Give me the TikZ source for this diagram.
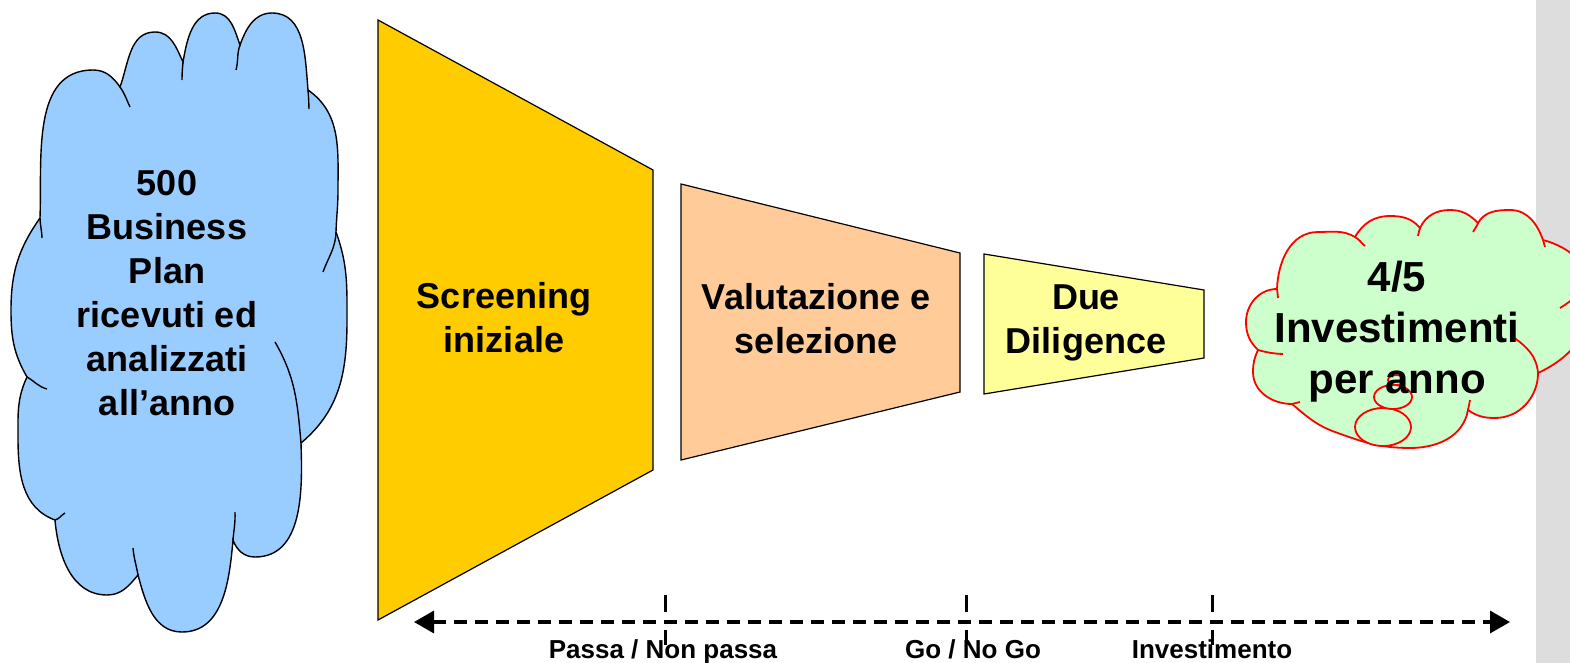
\documentclass[tikz,border=0pt]{standalone}
\usepackage{fontspec}
\setmainfont{Liberation Sans}
\usetikzlibrary{arrows.meta}
\definecolor{cloudblue}{HTML}{99CCFF}
\definecolor{cloudgreen}{HTML}{CCFFCC}
\definecolor{scrcol}{HTML}{FFCC00}
\definecolor{valcol}{HTML}{FFCC99}
\definecolor{duecol}{HTML}{FFFF99}
\definecolor{barcol}{HTML}{DDDDDD}
\begin{document}
\begin{tikzpicture}[x=1pt,y=1pt,
  shapeline/.style={draw=black,line width=1.2pt,line join=miter},
  lcloud/.style={fill=cloudblue,draw=black,line width=1.4pt},
  lhint/.style={draw=black,line width=1.4pt},
  rcloud/.style={fill=cloudgreen,draw=red,line width=1.8pt},
  rhint/.style={draw=red,line width=1.8pt},
  midtext/.style={font=\fontsize{36}{44}\selectfont\bfseries,align=center,inner sep=0pt},
  bigtext/.style={font=\fontsize{42}{51}\selectfont\bfseries,align=center,inner sep=0pt},
  labeltext/.style={font=\fontsize{26}{30}\selectfont\bfseries,inner sep=0pt,anchor=base},
  timeline/.style={line width=3.5pt,dash pattern=on 13pt off 8pt,{Triangle[length=20pt,width=22pt]}-{Triangle[length=20pt,width=22pt]}},
  tick/.style={line width=3pt}
]
\path[use as bounding box] (0,0) rectangle (1570,-663);
% grey band
\fill[barcol] (1536,0) rectangle (1570,-663);
% funnel stages
\path[shapeline,fill=scrcol] (378,-20) -- (653,-170) -- (653,-470) -- (378,-620) -- cycle;
\path[shapeline,fill=valcol] (681,-184) -- (960,-253) -- (960,-392) -- (681,-460) -- cycle;
\path[shapeline,fill=duecol] (984,-254) -- (1204,-290) -- (1204,-358) -- (984,-394) -- cycle;
% left cloud
\path[lcloud] (40,-218)
  to[out=88,in=180] (93,-70) to[out=0,in=125] (120,-87)
  to[out=70,in=180] (155,-32) to[out=0,in=115] (183,-62)
  to[out=80,in=180] (215,-13) to[out=0,in=110] (240,-45)
  to[out=70,in=180] (272,-13) to[out=0,in=95] (308,-90)
  to[out=-35,in=90] (338,-190) to[out=-90,in=88] (336,-232)
  to[out=-70,in=90] (347,-320) to[out=-90,in=40] (301,-443)
  to[out=-88,in=0] (255,-557) to[out=180,in=-70] (233,-540)
  to[out=-95,in=0] (182,-632) to[out=180,in=-75] (138,-575)
  to[out=-130,in=0] (107,-595) to[out=180,in=-85] (55,-520)
  to[out=160,in=-90] (18,-437) to[out=90,in=-115] (27,-377)
  to[out=120,in=-90] (11,-310) to[out=90,in=-125] (40,-218) -- cycle;
\draw[lhint] (40,-218) to[out=-88,in=92] (42,-238);
\draw[lhint] (120,-87) to[out=-55,in=115] (130,-107);
\draw[lhint] (183,-62) to[out=-95,in=90] (182,-80);
\draw[lhint] (240,-45) to[out=-110,in=75] (236,-70);
\draw[lhint] (308,-90) to[out=-85,in=92] (309,-109);
\draw[lhint] (336,-232) to[out=-92,in=70] (323,-272);
\draw[lhint] (275,-342) to[out=-60,in=95] (301,-443);
\draw[lhint] (233,-540) to[out=85,in=-88] (235,-512);
\draw[lhint] (138,-575) to[out=100,in=-85] (133,-548);
\draw[lhint] (55,-520) to[out=15,in=-150] (65,-513);
\draw[lhint] (27,-377) to[out=-30,in=165] (47,-389);
% right cloud
\begin{scope}
\clip (0,0) rectangle (1570,-663);
\path[rcloud] (1277,-289)
  to[out=88,in=180] (1318,-232) to[out=0,in=150] (1355,-237)
  to[out=60,in=180] (1390,-216) to[out=0,in=130] (1420,-228)
  to[out=65,in=180] (1450,-210) to[out=0,in=135] (1478,-223)
  to[out=60,in=180] (1510,-210) to[out=0,in=110] (1543,-240)
  to[out=-15,in=90] (1592,-295) to[out=-90,in=25] (1538,-373)
  to[out=-90,in=0] (1495,-418) to[out=180,in=-35] (1468,-410)
  to[out=-100,in=0] (1410,-448) to[out=180,in=-20] (1335,-432)
  to[out=160,in=-40] (1292,-404)
  to[out=180,in=-90] (1253,-372) to[out=90,in=-115] (1258,-350)
  to[out=135,in=-90] (1246,-322) to[out=90,in=180] (1277,-289) -- cycle;
\draw[rhint] (1277,-289) to[out=-88,in=90] (1278,-298);
\draw[rhint] (1355,-237) to[out=-30,in=140] (1365,-246);
\draw[rhint] (1420,-228) to[out=-100,in=85] (1418,-236);
\draw[rhint] (1478,-223) to[out=-110,in=60] (1473,-232);
\draw[rhint] (1543,-240) to[out=-70,in=100] (1545,-247);
\draw[rhint] (1560,-308) to[out=30,in=-150] (1575,-298);
\draw[rhint] (1538,-373) to[out=95,in=-35] (1513,-337);
\draw[rhint] (1468,-410) to[out=85,in=-95] (1470,-400);
\draw[rhint] (1292,-404) to[out=20,in=-160] (1300,-402);
\draw[rhint] (1258,-350) to[out=-15,in=178] (1283,-354);
\end{scope}
% thought bubbles
\path[rcloud] (1383,-427) ellipse [x radius=28,y radius=19];
\path[rcloud] (1393,-397) ellipse [x radius=19,y radius=12];
\path[rcloud] (1396,-380) ellipse [x radius=8,y radius=5];
% texts
\node[midtext] (bp) at (167,-293) {500\\Business\\Plan\\ricevuti ed\\analizzati\\all’anno};
\node[midtext] (scr) at (504,-318) {Screening\\iniziale};
\node[midtext] (val) at (816,-319) {Valutazione e\\selezione};
\node[midtext] (due) at (1086,-323) {Due\\Diligence};
\node[bigtext] (inv) at (1397,-332) {4/5\\Investimenti\\per anno};
% timeline
\coordinate (tl) at (414,-622);
\coordinate (tr) at (1510,-622);
\draw[timeline] (tl) -- (tr);
\foreach \n/\x in {a/665,b/966,c/1212}{
  \coordinate (\n1) at (\x,-595);
  \coordinate (\n2) at (\x,-612);
  \coordinate (\n3) at (\x,-630);
  \coordinate (\n4) at (\x,-645);
  \draw[tick] (\n1) -- (\n2);
  \draw[tick] (\n3) -- (\n4);
}
\node[labeltext] (l1) at (663,-658) {Passa / Non passa};
\node[labeltext] (l2) at (973,-658) {Go / No Go};
\node[labeltext] (l3) at (1212,-658) {Investimento};
\end{tikzpicture}
\end{document}
